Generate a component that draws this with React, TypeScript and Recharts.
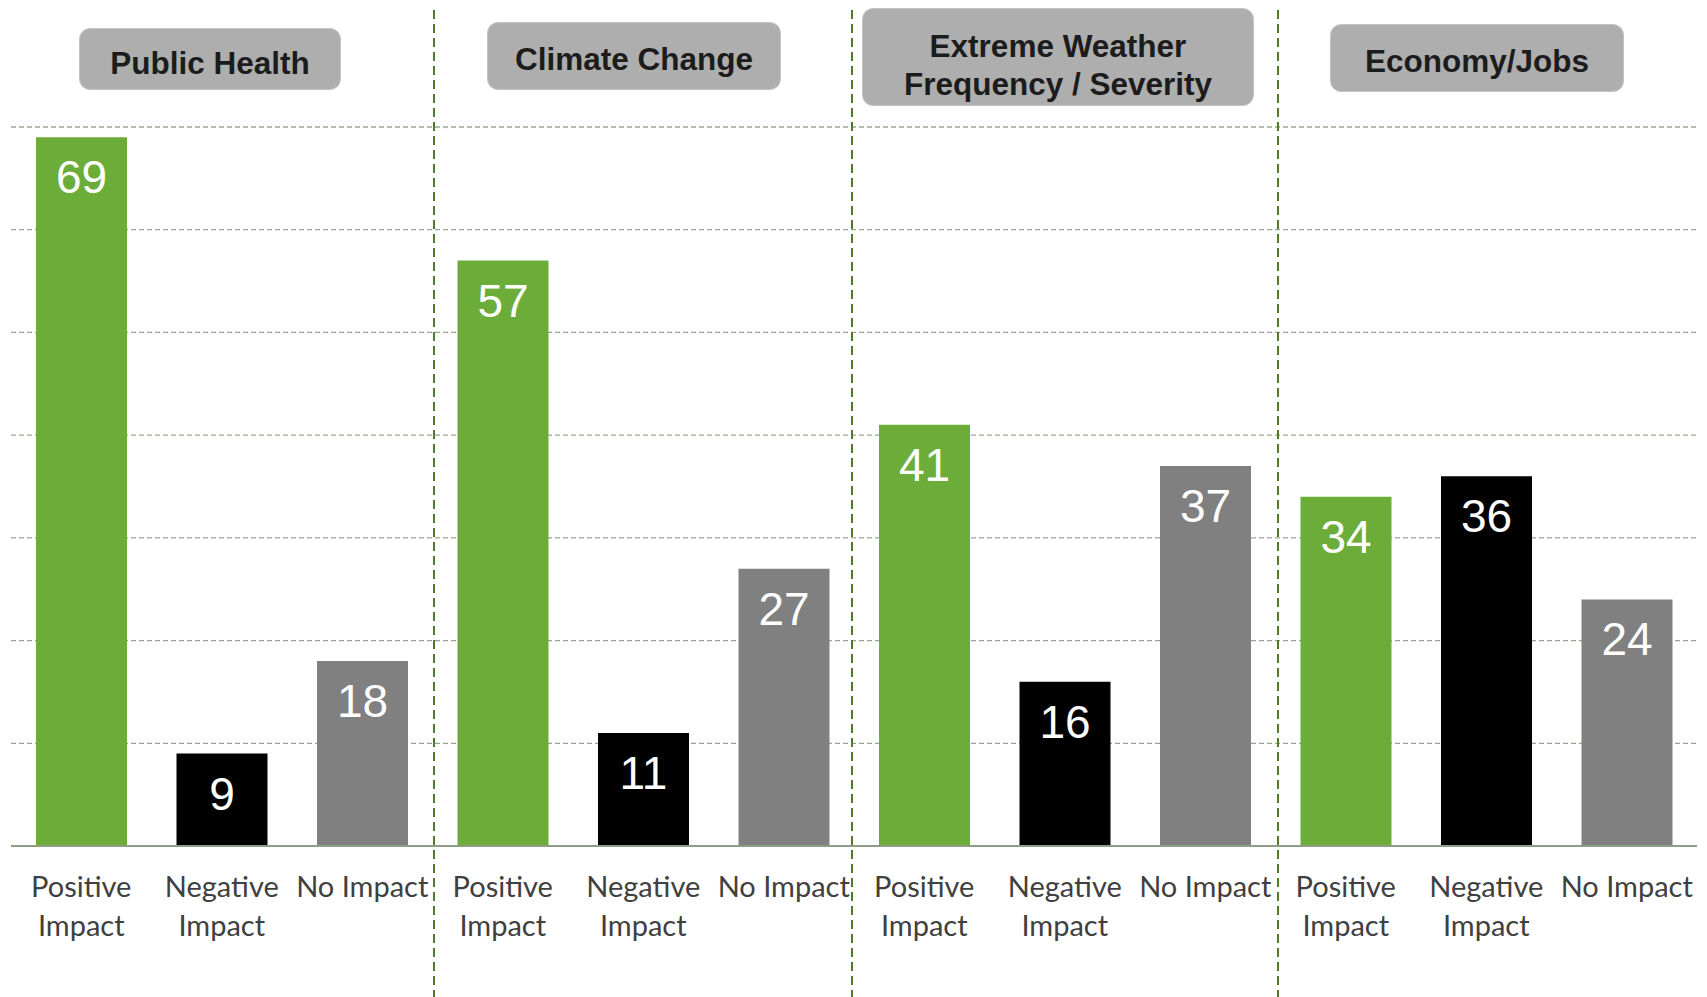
import { BarChart, Bar, XAxis, YAxis, CartesianGrid, Cell, LabelList } from "recharts"

const topics = ["Public Health", "Climate Change", "Extreme Weather Frequency / Severity", "Economy/Jobs"]
const impactLabels = ["Positive Impact", "Negative Impact", "No Impact"]
const positive = [69, 57, 41, 34]
const negative = [9, 11, 16, 36]
const noImpact = [18, 27, 37, 24]
const yTicks = [0, 10, 20, 30, 40, 50, 60, 70]
const impactColors = ["#6CAD3A", "#000000", "#808080"]

const W = 1707
const H = 997
const PLOT_LEFT = 11
const PLOT_RIGHT = 1697
const PLOT_TOP = 127
const PLOT_BOTTOM = 846

const rows = topics.flatMap((topic, i) =>
  [positive[i], negative[i], noImpact[i]].map((value, j) => ({
    id: `${topic}|${impactLabels[j]}`,
    impact: j,
    value,
  }))
)

// header boxes sit above each group
const headers = [
  { lines: ["Public Health"], left: 79, top: 28, width: 262, height: 62, shift: 8 },
  { lines: ["Climate Change"], left: 487, top: 22, width: 294, height: 68, shift: 5 },
  { lines: ["Extreme Weather", "Frequency / Severity"], left: 862, top: 8, width: 392, height: 98, shift: 16 },
  { lines: ["Economy/Jobs"], left: 1330, top: 24, width: 294, height: 68, shift: 5 },
]
const dividers = [434, 852, 1278]

function ImpactTick(props: any) {
  const { x, payload } = props
  const label = impactLabels[rows.find((r) => r.id === payload.value)?.impact ?? 0]
  const words = label === "No Impact" ? [label] : label.split(" ")
  return (
    <g>
      {words.map((w, k) => (
        <text
          key={k}
          x={x}
          y={PLOT_BOTTOM + 51 + k * 39}
          textAnchor="middle"
          fill="#404040"
          fontFamily="Lato, 'Open Sans', sans-serif"
          fontSize={29}
        >
          {w}
        </text>
      ))}
    </g>
  )
}

function ValueLabel(props: any) {
  const { x, y, width, value } = props
  return (
    <text
      x={x + width / 2}
      y={y + 56}
      textAnchor="middle"
      fill="#ffffff"
      fontFamily="'Liberation Sans', Arial, sans-serif"
      fontSize={46}
    >
      {value}
    </text>
  )
}

export default function App() {
  return (
    <div style={{ position: "absolute", left: 0, top: 0, width: W, height: H, background: "#fff" }}>
      <BarChart
        width={W}
        height={H}
        data={rows}
        margin={{ top: PLOT_TOP, right: W - PLOT_RIGHT, bottom: H - PLOT_BOTTOM - 100, left: PLOT_LEFT }}
      >
        <CartesianGrid vertical={false} stroke="#9AA58F" strokeDasharray="5 3" strokeWidth={1.3} />
        <YAxis hide domain={[0, 70]} ticks={yTicks} type="number" />
        <XAxis
          dataKey="id"
          height={100}
          interval={0}
          tickLine={false}
          axisLine={{ stroke: "#8E9E84", strokeWidth: 2 }}
          tick={<ImpactTick />}
        />
        <Bar dataKey="value" barSize={91} isAnimationActive={false}>
          {rows.map((r) => (
            <Cell key={r.id} fill={impactColors[r.impact]} />
          ))}
          <LabelList dataKey="value" content={<ValueLabel />} />
        </Bar>
      </BarChart>
      <svg width={W} height={H} style={{ position: "absolute", left: 0, top: 0, pointerEvents: "none" }}>
        {dividers.map((x) => (
          <line key={x} x1={x} x2={x} y1={10} y2={H} stroke="#4E7A2A" strokeWidth={2} strokeDasharray="9 5" />
        ))}
      </svg>
      {headers.map((h) => (
        <div
          key={h.lines[0]}
          style={{
            position: "absolute",
            left: h.left,
            top: h.top,
            width: h.width,
            height: h.height,
            paddingTop: h.shift,
            background: "#AEAEAE",
            border: "1px solid #C4C4C4",
            boxSizing: "border-box",
            borderRadius: 11,
            display: "flex",
            flexDirection: "column",
            justifyContent: "center",
            alignItems: "center",
            fontFamily: "'Liberation Sans', Arial, sans-serif",
            fontWeight: "bold",
            fontSize: 31.5,
            lineHeight: "38px",
            color: "#1C1C1C",
          }}
        >
          {h.lines.map((l) => (
            <div key={l}>{l}</div>
          ))}
        </div>
      ))}
    </div>
  )
}
